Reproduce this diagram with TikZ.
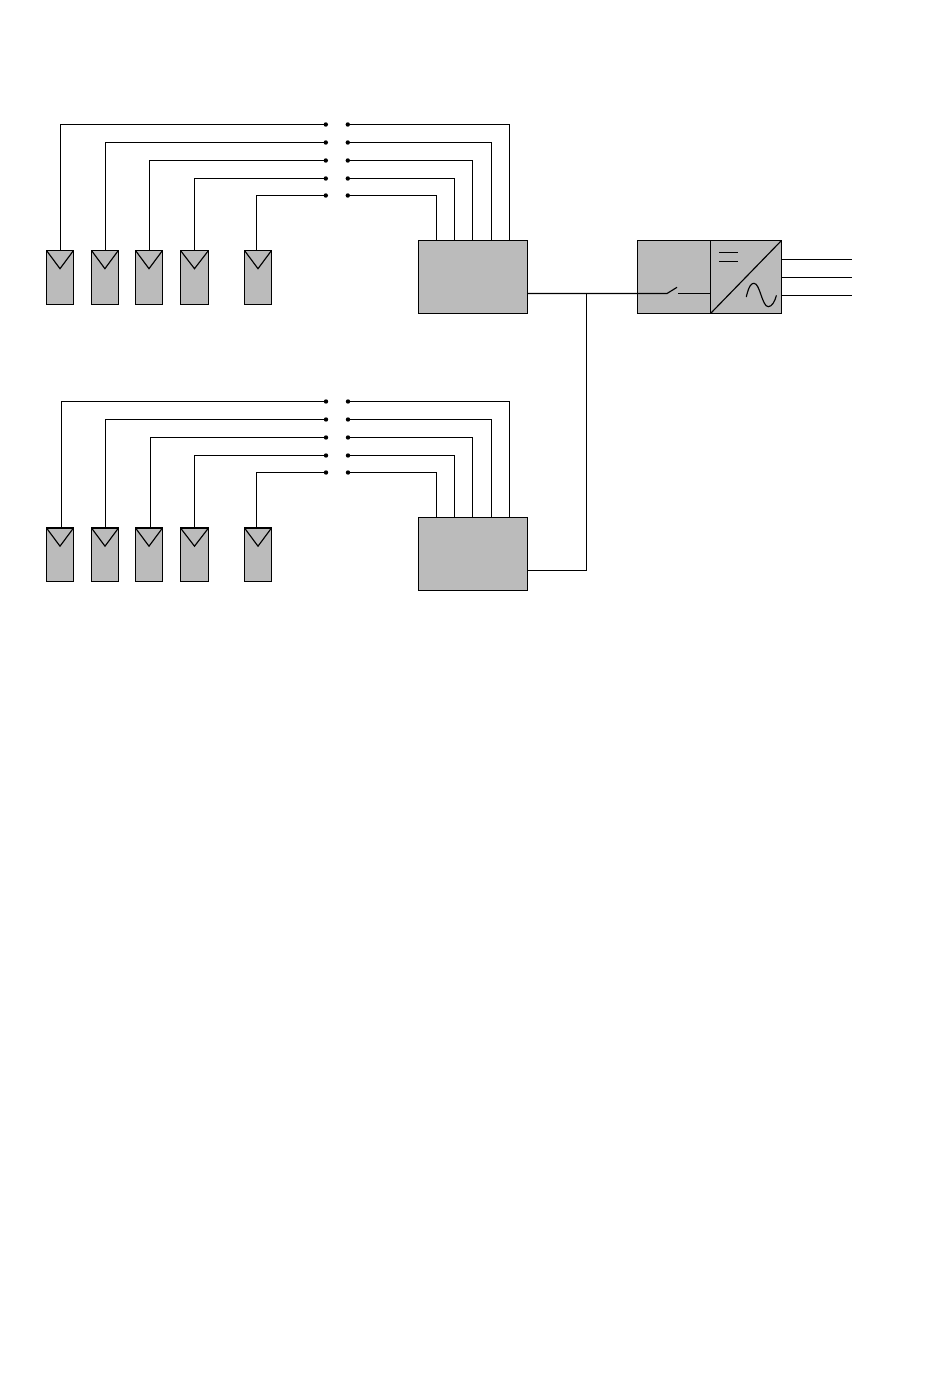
\documentclass[tikz,border=0pt]{standalone}
\tikzset{
  wire/.style={draw=black,line width=1.15pt},
  graybox/.style={rectangle,draw=black,fill=boxgray,line width=1.15pt,inner sep=0pt,outer sep=0pt,anchor=north west},
  pvmodule/.style={graybox,minimum width=#1,minimum height=53.8pt},
  combiner/.style={graybox,minimum width=109.2pt,minimum height=72.8pt},
  dotnode/.style={circle,fill=black,inner sep=0pt,outer sep=0pt,minimum size=4.4pt},
}
\definecolor{boxgray}{RGB}{187,187,187}
\begin{document}
\begin{tikzpicture}[x=1pt,y=-1pt]
\useasboundingbox (0,0) rectangle (950,1397);
% --- upper array ---
\node[pvmodule=27pt] (a1) at (46.5,250.5) {};
\node[pvmodule=26.8pt] (a2) at (91.5,250.5) {};
\node[pvmodule=27pt] (a3) at (135.5,250.5) {};
\node[pvmodule=28pt] (a4) at (180.5,250.5) {};
\node[pvmodule=27pt] (a5) at (244.5,250.5) {};
\foreach \m in {a1,a2,a3,a4,a5}
  \draw[wire] (\m.north west) -- ([yshift=-18.2]\m.north) -- (\m.north east);
\node[combiner] (b1) at (418.5,240.5) {};
\foreach \n/\y in {1/124.5,2/142.5,3/160.5,4/178.5,5/195.5}{
  \node[dotnode] (al\n) at (325.8,\y) {};
  \node[dotnode] (ar\n) at (347.8,\y) {};
}
\draw[wire] ([xshift=0.5]a1.north) |- (al1);
\draw[wire] ([xshift=0.6]a2.north) |- (al2);
\draw[wire] ([xshift=0.5]a3.north) |- (al3);
\draw[wire] (a4.north) |- (al4);
\draw[wire] ([xshift=-1.5]a5.north) |- (al5);
\draw[wire] (ar1) -| ([xshift=36.4]b1.north);
\draw[wire] (ar2) -| ([xshift=18.4]b1.north);
\draw[wire] (ar3) -| ([xshift=-0.6]b1.north);
\draw[wire] (ar4) -| ([xshift=-18.6]b1.north);
\draw[wire] (ar5) -| ([xshift=-36.6]b1.north);
% --- lower array ---
\node[pvmodule=27pt] (c1) at (46.5,528) {};
\node[pvmodule=27pt] (c2) at (91.5,528) {};
\node[pvmodule=27pt] (c3) at (135.5,528) {};
\node[pvmodule=28pt] (c4) at (180.5,528) {};
\node[pvmodule=27pt] (c5) at (244.5,528) {};
\foreach \m in {c1,c2,c3,c4,c5}
  \draw[wire] (\m.north west) -- ([yshift=-18.2]\m.north) -- (\m.north east);
\node[combiner] (b2) at (418.5,517.5) {};
\foreach \n/\y in {1/401.5,2/419.5,3/437.5,4/455.5,5/472.5}{
  \node[dotnode] (cl\n) at (326,\y) {};
  \node[dotnode] (cr\n) at (348,\y) {};
}
\draw[wire] ([xshift=1.5]c1.north) |- (cl1);
\draw[wire] ([xshift=0.5]c2.north) |- (cl2);
\draw[wire] ([xshift=1.5]c3.north) |- (cl3);
\draw[wire] (c4.north) |- (cl4);
\draw[wire] ([xshift=-1.5]c5.north) |- (cl5);
\draw[wire] (cr1) -| ([xshift=36.4]b2.north);
\draw[wire] (cr2) -| ([xshift=18.4]b2.north);
\draw[wire] (cr3) -| ([xshift=-0.6]b2.north);
\draw[wire] (cr4) -| ([xshift=-18.6]b2.north);
\draw[wire] (cr5) -| ([xshift=-36.6]b2.north);
% --- inverter ---
\node[graybox,minimum width=73pt,minimum height=73pt] (dcbox) at (637.5,240.5) {};
\node[graybox,minimum width=71pt,minimum height=73pt] (inv) at (710.5,240.5) {};
\draw[wire] (inv.north east) -- (inv.south west);
\draw[wire] (719,252.5) -- (738,252.5);
\draw[wire] (719,261.5) -- (738,261.5);
\draw[wire,line cap=round] (746.3,296.7) .. controls (749,286) and (751,283.3) .. (754,283.3)
  .. controls (760,283.3) and (762,306.7) .. (768.3,306.7)
  .. controls (772,306.7) and (775,301) .. (776.3,295.7);
% --- switch and bus ---
\coordinate (jct) at (586.5,293.5);
\coordinate (swa) at (667,293.5);
\coordinate (swb) at (677,287.3);
\coordinate (swc) at (678.3,293.5);
\draw[wire] (b1.east |- jct) -- (jct) -- (swa) -- (swb);
\draw[wire] (swc) -- (swc -| inv.west);
\draw[wire] ([yshift=-16.4]b2.east) -| (jct);
% --- AC outputs ---
\coordinate (o1) at (851.7,259.5);
\coordinate (o2) at (851.7,277.5);
\coordinate (o3) at (851.7,295.5);
\draw[wire] (o1 -| inv.east) -- (o1);
\draw[wire] (o2 -| inv.east) -- (o2);
\draw[wire] (o3 -| inv.east) -- (o3);
\end{tikzpicture}
\end{document}
